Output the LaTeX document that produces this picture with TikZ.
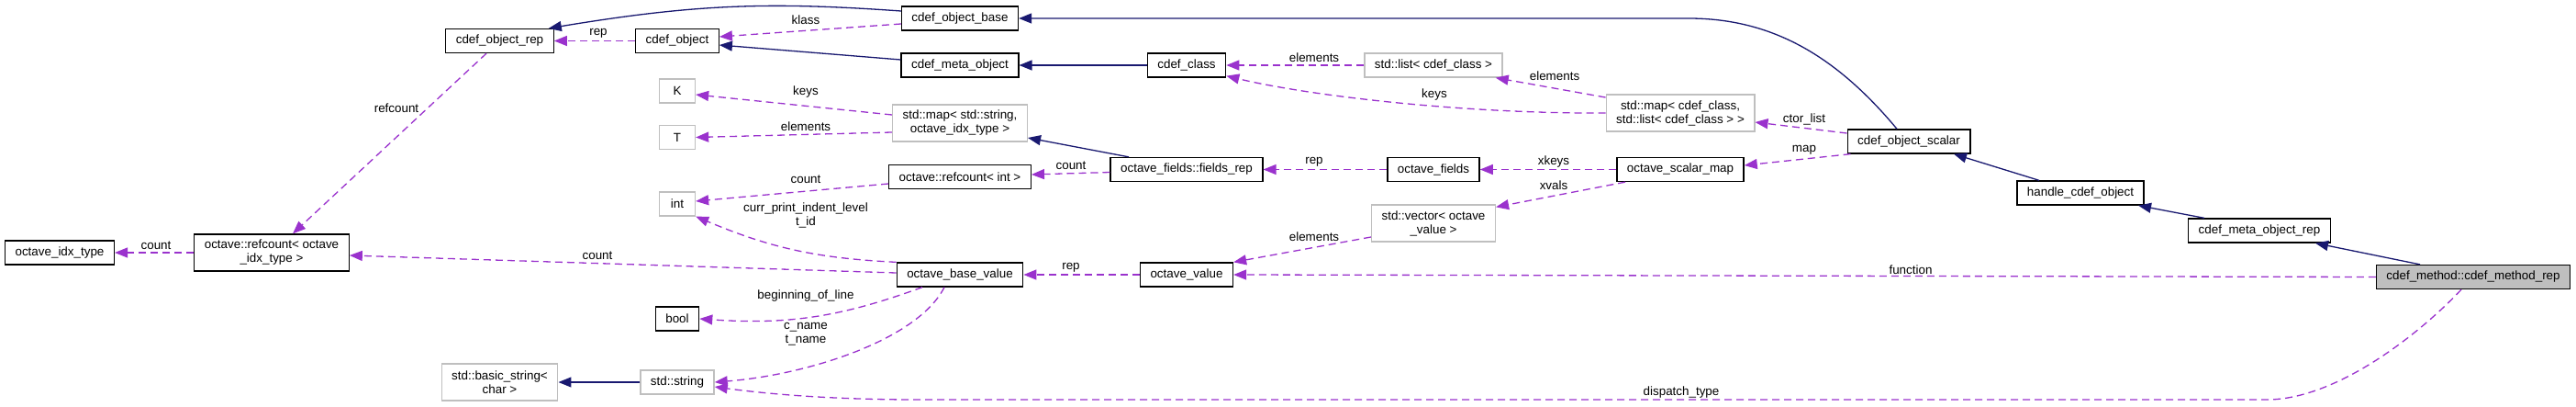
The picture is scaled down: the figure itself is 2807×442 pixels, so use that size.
\documentclass[tikz,border=0pt]{standalone}
\usepackage{fontspec}
\setmainfont{Liberation Sans}
\usetikzlibrary{arrows.meta}
\definecolor{navy}{HTML}{191970}
\definecolor{orchid}{HTML}{9A32CD}
\definecolor{undoc}{HTML}{BFBFBF}
\begin{document}
\begin{tikzpicture}[x=1pt,y=-1pt,
 cls/.style={draw=black,line width=1.3pt,fill=white,inner xsep=11pt,inner ysep=0pt,minimum height=26pt,minimum width=39pt,font=\fontsize{13.4pt}{15pt}\selectfont,align=center},
 ext/.style={cls,draw=undoc},
 two/.style={minimum height=40pt},
 here/.style={cls,fill=undoc},
 inh/.style={color=navy,line width=1.3pt,-{Triangle[length=14pt,width=11pt]}},
 use/.style={color=orchid,line width=1.3pt,dash pattern=on 8pt off 5pt,-{Triangle[length=14pt,width=11pt]}},
 lbl/.style={text=black,font=\fontsize{13.4pt}{15pt}\selectfont,align=center,inner sep=0pt}]
 \useasboundingbox (0,0) rectangle (2807,442);
 \node[cls] (idx) at (65,275) {octave\_idx\_type};
 \node[cls,two] (rcidx) at (296,275) {octave::refcount< octave\\\_idx\_type >};
 \node[cls] (objrep) at (544.5,44.5) {cdef\_object\_rep};
 \node[ext,two] (bstr) at (544.5,416) {std::basic\_string<\\char >};
 \node[cls] (obj) at (738,44.5) {cdef\_object};
 \node[ext] (K) at (738,99) {K};
 \node[ext] (T) at (738,149.5) {T};
 \node[ext] (int) at (738,222) {int};
 \node[cls] (bool) at (738,347) {bool};
 \node[ext] (str) at (738,416) {std::string};
 \node[cls] (objbase) at (1046,20) {cdef\_object\_base};
 \node[cls] (metaobj) at (1046,71) {cdef\_meta\_object};
 \node[ext,two] (mapstr) at (1046,134) {std::map< std::string,\\octave\_idx\_type >};
 \node[cls] (rcint) at (1046,192.5) {octave::refcount< int >};
 \node[cls] (bval) at (1046,299) {octave\_base\_value};
 \node[cls] (class) at (1293,71) {cdef\_class};
 \node[cls] (fieldsrep) at (1293,184.5) {octave\_fields::fields\_rep};
 \node[cls] (oval) at (1293,299) {octave\_value};
 \node[ext] (clslist) at (1562,71) {std::list< cdef\_class >};
 \node[cls] (fields) at (1562,184.5) {octave\_fields};
 \node[ext,two] (vec) at (1562,243) {std::vector< octave\\\_value >};
 \node[ext,two] (mapcls) at (1831,123) {std::map< cdef\_class,\\std::list< cdef\_class > >};
 \node[cls] (smap) at (1831,184.5) {octave\_scalar\_map};
 \node[cls] (scalar) at (2080,154) {cdef\_object\_scalar};
 \node[cls] (handle) at (2267,210) {handle\_cdef\_object};
 \node[cls] (metarep) at (2462,251) {cdef\_meta\_object\_rep};
 \node[here] (method) at (2695,301.5) {cdef\_method::cdef\_method\_rep};
 % inheritance
 \draw[inh] ([yshift=8pt]objbase.west) .. controls (840,2) and (760,4) .. ([xshift=-6pt]objrep.north east);
 \draw[inh] ([yshift=6pt]metaobj.west) -- ([yshift=-4.5pt]obj.east);
 \draw[inh] (class.west) -- (metaobj.east);
 \draw[inh] ([xshift=-13pt]scalar.north) .. controls (2000,60) and (1930,20) .. (1840,20) -- (objbase.east);
 \draw[inh] ([xshift=-45pt]handle.north) -- ([xshift=49pt]scalar.south);
 \draw[inh] ([xshift=-60pt]metarep.north) -- ([xshift=63pt]handle.south);
 \draw[inh] ([xshift=-58pt]method.north) -- ([xshift=61pt]metarep.south);
 \draw[inh] ([xshift=-63pt]fieldsrep.north) -- ([yshift=-16pt]mapstr.east);
 \draw[inh] (str.west) -- (bstr.east);
 % members
 \draw[use] (obj.west) -- (objrep.east) node[lbl] at (652,36) {rep};
 \draw[use] ([yshift=-6pt]objbase.west) -- ([yshift=4.5pt]obj.east) node[lbl] at (878,22) {klass};
 \draw[use] ([xshift=-14.5pt]objrep.south) -- ([xshift=23pt]rcidx.north) node[lbl] at (432,118) {refcount};
 \draw[use] (rcidx.west) -- (idx.east) node[lbl] at (170,267) {count};
 \draw[use] ([yshift=2pt]bval.west) -- ([yshift=-3pt]rcidx.east) node[lbl] at (651,278) {count};
 \draw[use] ([yshift=9pt]mapstr.west) -- ([yshift=-4pt]K.east) node[lbl] at (878,100) {keys};
 \draw[use] ([yshift=-10pt]mapstr.west) -- (T.east) node[lbl] at (878,138) {elements};
 \draw[use] ([yshift=-7.5pt]rcint.west) -- ([yshift=3pt]int.east) node[lbl] at (878,195) {count};
 \draw[use] (bval.north west) to[bend left=10] (int.south east) node[lbl] at (878,234.5) {curr\_print\_indent\_level\\t\_id};
 \draw[use] ([xshift=-41pt]bval.south) to[bend left=12] (bool.east) node[lbl] at (878,322) {beginning\_of\_line};
 \draw[use] ([xshift=-17pt]bval.south) .. controls (1000,370) and (880,408) .. (str.east) node[lbl] at (878,363.5) {c\_name\\t\_name};
 \draw[use] ([xshift=-13pt]method.south) .. controls (2635,365) and (2545,435) .. (2470,435) -- (1000,435) .. controls (900,435) and (830,428) .. ([yshift=-5pt]str.east) node[lbl] at (1832,427) {dispatch\_type};
 \draw[use] ([yshift=-3pt]fieldsrep.west) -- ([yshift=2.5pt]rcint.east) node[lbl] at (1167,180) {count};
 \draw[use] (oval.west) -- (bval.east) node[lbl] at (1167,291) {rep};
 \draw[use] (clslist.west) -- (class.east) node[lbl] at (1432,63) {elements};
 \draw[use] ([yshift=17pt]mapcls.west) -- ([xshift=-8pt]clslist.south east) node[lbl] at (1694,83) {elements};
 \draw[use] (mapcls.west) .. controls (1600,124) and (1430,105) .. ([yshift=2pt]class.south east) node[lbl] at (1563,103) {keys};
 \draw[use] ([yshift=9pt]scalar.west) -- ([yshift=-10pt]mapcls.east) node[lbl] at (1966,130) {ctor\_list};
 \draw[use] ([xshift=4pt]scalar.south west) -- ([yshift=4.5pt]smap.east) node[lbl] at (1966,163) {map};
 \draw[use] (smap.west) -- (fields.east) node[lbl] at (1693,176) {xkeys};
 \draw[use] (fields.west) -- (fieldsrep.east) node[lbl] at (1432,176) {rep};
 \draw[use] ([xshift=-60pt]smap.south) -- ([yshift=-3pt]vec.north east) node[lbl] at (1693,202) {xvals};
 \draw[use] ([yshift=-15pt]vec.west) -- (oval.north east) node[lbl] at (1432,258) {elements};
 \draw[use] (method.west) -- (oval.east) node[lbl] at (2082,294) {function};
\end{tikzpicture}
\end{document}
